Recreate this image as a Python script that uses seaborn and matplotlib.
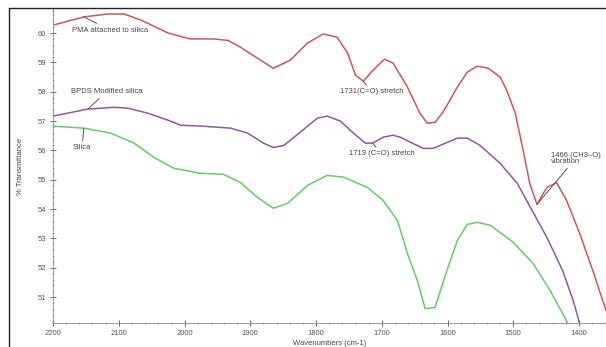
import pandas as pd
import matplotlib.pyplot as plt
import matplotlib.lines as mlines
from matplotlib.ticker import MultipleLocator
import seaborn as sns

# FTIR spectra (wavenumber, % transmittance)
pma_wn = [2200, 2153, 2117, 2092, 2066, 2025, 1991, 1956, 1934, 1915, 1900, 1865,
          1839, 1813, 1789, 1768, 1752, 1740, 1728, 1713, 1696, 1683, 1661, 1642,
          1631, 1619, 1607, 1585, 1570, 1555, 1538, 1520, 1510, 1497, 1485, 1475,
          1464, 1449, 1434, 1419, 1399, 1379, 1359]
pma_t = [60.27, 60.55, 60.65, 60.65, 60.44, 60.0, 59.8, 59.8, 59.75, 59.52, 59.3, 58.8,
         59.08, 59.66, 59.97, 59.86, 59.32, 58.57, 58.36, 58.74, 59.11, 58.98, 58.16, 57.27,
         56.93, 56.96, 57.3, 58.16, 58.67, 58.87, 58.8, 58.5, 58.05, 57.27, 56.0, 54.88,
         54.16, 54.74, 54.9, 54.3, 53.17, 51.9, 50.55]

bpds_wn = [2200, 2147, 2107, 2086, 2056, 2025, 2006, 1975, 1930, 1904, 1880, 1865,
           1849, 1824, 1798, 1783, 1763, 1743, 1725, 1714, 1698, 1683, 1672, 1637,
           1622, 1585, 1570, 1551, 1520, 1494, 1470, 1449, 1425, 1409, 1399]
bpds_t = [57.17, 57.41, 57.47, 57.44, 57.27, 57.03, 56.86, 56.83, 56.76, 56.59, 56.25, 56.1,
          56.17, 56.62, 57.1, 57.17, 57.0, 56.59, 56.25, 56.25, 56.45, 56.52, 56.45, 56.07,
          56.07, 56.42, 56.42, 56.18, 55.56, 54.88, 53.9, 53.04, 51.91, 50.89, 50.1]

silica_wn = [2200, 2153, 2112, 2077, 2047, 2016, 1975, 1941, 1915, 1889, 1865, 1843,
             1813, 1783, 1758, 1722, 1698, 1676, 1661, 1646, 1634, 1619, 1601, 1585,
             1570, 1555, 1535, 1500, 1470, 1444, 1425, 1417]
silica_t = [56.83, 56.76, 56.59, 56.25, 55.77, 55.39, 55.22, 55.19, 54.91, 54.4, 54.03, 54.2,
            54.81, 55.15, 55.09, 54.74, 54.3, 53.6, 52.49, 51.57, 50.61, 50.65, 51.91, 52.93,
            53.48, 53.55, 53.45, 52.87, 52.15, 51.23, 50.44, 50.1]

sns.set_style("white")
plt.rcParams['font.family'] = ['Liberation Sans', 'DejaVu Sans']

fig = plt.figure(figsize=(6.06, 3.47), dpi=100)
ax = fig.add_axes([53 / 606, 1 - 323 / 347, 1 - 53 / 606, (323 - 9) / 347])

sns.lineplot(x=pma_wn, y=pma_t, ax=ax, color='#c85a5a', lw=1.1, sort=False)
sns.lineplot(x=bpds_wn, y=bpds_t, ax=ax, color='#8a5c9e', lw=1.1, sort=False)
sns.lineplot(x=silica_wn, y=silica_t, ax=ax, color='#66cc66', lw=1.1, sort=False)

ax.set_xlim(2200, 1359)
ax.set_ylim(50.12, 60.82)
ax.xaxis.set_major_locator(MultipleLocator(100))
ax.xaxis.set_minor_locator(MultipleLocator(20))
ax.yaxis.set_major_locator(MultipleLocator(1))
ax.yaxis.set_minor_locator(MultipleLocator(0.2))
ax.set_yticks(range(51, 61))
ax.tick_params(axis='both', which='major', direction='inout', length=4, width=0.6,
               labelsize=5.5, colors='#555555', pad=3)
ax.tick_params(axis='both', which='minor', direction='inout', length=2, width=0.5,
               colors='#888888')
ax.tick_params(axis='both', which='both', bottom=True, left=True)

for s in ['top', 'right']:
    ax.spines[s].set_visible(False)
for s in ['left', 'bottom']:
    ax.spines[s].set_color('#888888')
    ax.spines[s].set_linewidth(0.6)

ax.set_xlabel('Wavenumbers (cm-1)', fontsize=5.5, color='#444444', labelpad=2)
ax.set_ylabel('% Transmittance', fontsize=5.5, color='#444444', labelpad=10)

# annotations with leader lines
txt = dict(fontsize=5.5, color='#444444', va='center', ha='left')
arr = dict(arrowstyle='-', color='#555555', lw=0.7, shrinkA=0, shrinkB=0)
ax.annotate('PMA attached to silica', xy=(2153, 60.55), xytext=(2171, 60.1),
            arrowprops=arr, **txt)
ax.annotate('BPDS Modified silica', xy=(2147, 57.41), xytext=(2173, 58.0),
            arrowprops=arr, **txt)
ax.annotate('Silica', xy=(2153, 56.76), xytext=(2170, 56.1),
            arrowprops=arr, **txt)
ax.annotate('1731(C=O) stretch', xy=(1728, 58.36), xytext=(1764, 58.0),
            arrowprops=arr, **txt)
ax.annotate('1719 (C=O) stretch', xy=(1714, 56.25), xytext=(1750, 55.88),
            arrowprops=arr, **txt)
ax.annotate('1466 (CH3\u2013O)\nvibration', xy=(1464, 54.16), xytext=(1443, 55.73),
            arrowprops=arr, linespacing=0.9, **txt)

# window frame lines
fig.add_artist(mlines.Line2D([9 / 606, 1], [1 - 8 / 347, 1 - 8 / 347],
                             transform=fig.transFigure, color='#222222', lw=1.0))
fig.add_artist(mlines.Line2D([9 / 606, 9 / 606], [0, 1 - 8 / 347],
                             transform=fig.transFigure, color='#222222', lw=1.0))

fig.savefig('out.png', dpi=100)
